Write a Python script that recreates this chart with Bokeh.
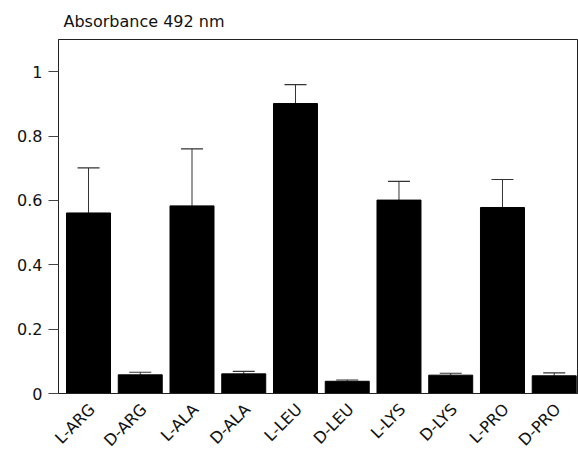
import math
from bokeh.plotting import figure
from bokeh.models import (Range1d, FixedTicker, NumeralTickFormatter, ColumnDataSource,
                          Whisker, TeeHead)
from bokeh.embed import file_html
from bokeh.resources import INLINE

categories = ["L-ARG", "D-ARG", "L-ALA", "D-ALA", "L-LEU", "D-LEU", "L-LYS", "D-LYS", "L-PRO", "D-PRO"]
absorbance = [0.561, 0.058, 0.583, 0.061, 0.901, 0.038, 0.601, 0.057, 0.578, 0.055]
error_up = [0.140, 0.008, 0.177, 0.008, 0.059, 0.004, 0.058, 0.006, 0.087, 0.009]
y_ticks = [0, 0.2, 0.4, 0.6, 0.8, 1]
y_title = "Absorbance 492 nm"

xs = list(range(len(categories)))
upper = [a + e for a, e in zip(absorbance, error_up)]
src = ColumnDataSource(dict(x=xs, top=absorbance, upper=upper))

FONT = "DejaVu Sans"
LABEL_SHIFT = 0.07  # rotated labels sit slightly right of bar centres

p = figure(frame_width=519, frame_height=354, output_backend="svg", toolbar_location=None,
           x_range=Range1d(-0.58, 9.45), y_range=Range1d(0, 1.1),
           min_border_left=58, min_border_right=1, min_border_top=39, min_border_bottom=59)

p.title.text = y_title
p.title.text_font = FONT
p.title.text_font_size = "16px"
p.title.text_font_style = "normal"
p.title.text_color = "#111111"
p.title.align = "left"
p.title.offset = 5
p.title.standoff = 18

p.vbar(x="x", top="top", width=0.85, source=src, fill_color="black", line_color="black")

w = Whisker(source=src, base="x", lower="top", upper="upper", dimension="height",
            line_color="#333333", line_width=1,
            upper_head=TeeHead(size=22, line_color="#333333", line_width=1.2),
            lower_head=None)
p.add_layout(w)

p.xgrid.visible = False
p.ygrid.visible = False
p.outline_line_color = "#222222"
p.outline_line_width = 1
p.background_fill_color = "white"
p.border_fill_color = "white"

p.yaxis.ticker = FixedTicker(ticks=y_ticks)
p.yaxis.formatter = NumeralTickFormatter(format="0.[0]")
p.yaxis.major_tick_out = 10
p.yaxis.major_tick_in = 0
p.yaxis.minor_tick_line_color = None
p.yaxis.axis_line_color = "#222222"
p.yaxis.major_tick_line_color = "#444444"
p.yaxis.major_label_text_font = FONT
p.yaxis.major_label_text_font_size = "16px"
p.yaxis.major_label_text_color = "#111111"
p.yaxis.major_label_standoff = 6

label_ticks = [x + LABEL_SHIFT for x in xs]
p.xaxis.ticker = FixedTicker(ticks=label_ticks)
p.xaxis.major_label_overrides = {t: c for t, c in zip(label_ticks, categories)}
p.xaxis.major_label_orientation = math.pi / 4
p.xaxis.major_tick_line_color = None
p.xaxis.minor_tick_line_color = None
p.xaxis.axis_line_color = "#222222"
p.xaxis.major_label_text_font = FONT
p.xaxis.major_label_text_font_size = "16px"
p.xaxis.major_label_text_color = "#111111"
p.xaxis.major_label_standoff = 7

open("out.html", "w").write(file_html(p, INLINE))
